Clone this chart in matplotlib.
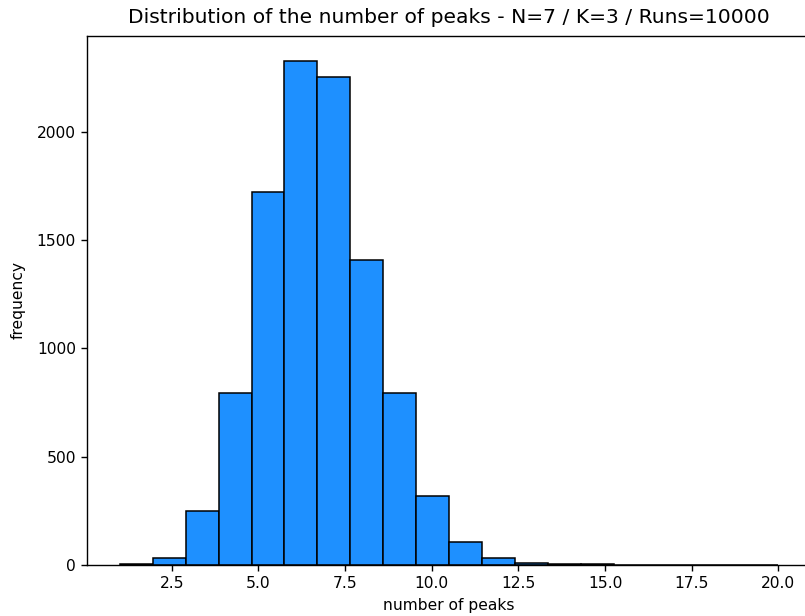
import numpy as np
import matplotlib
matplotlib.use('Agg')
import matplotlib.pyplot as plt

# number of peaks found in each run and how often it happened
peaks = [1, 2, 3, 4, 5, 6, 7, 8, 9, 10, 11, 12, 13, 14, 15, 16, 17, 18, 19, 20]
freq = [3, 33, 247, 792, 1722, 2328, 2257, 1408, 792, 318, 107, 32, 10, 3, 2, 0, 0, 0, 0, 0]

# the reference looks like a default figure blown up ~1.25x
s = 1.25
plt.rcParams['font.size'] = 11.2
plt.rcParams['axes.linewidth'] = 0.8 * s
plt.rcParams['xtick.major.size'] = 3.5 * s
plt.rcParams['ytick.major.size'] = 3.5 * s
plt.rcParams['xtick.major.width'] = 0.8 * s
plt.rcParams['ytick.major.width'] = 0.8 * s

fig = plt.figure(figsize=(8.05, 6.16), dpi=100)
plt.subplots_adjust(left=0.108, right=1.0077, bottom=0.0833, top=0.9416)

plt.hist(peaks, bins=20, weights=freq, color='#1E90FF', edgecolor='black', linewidth=1.1)
plt.title('Distribution of the number of peaks - N=7 / K=3 / Runs=10000', fontsize=14.6, pad=9)
plt.xlabel('number of peaks', labelpad=5)
plt.ylabel('frequency', labelpad=8)

plt.savefig('out.png', dpi=100)
